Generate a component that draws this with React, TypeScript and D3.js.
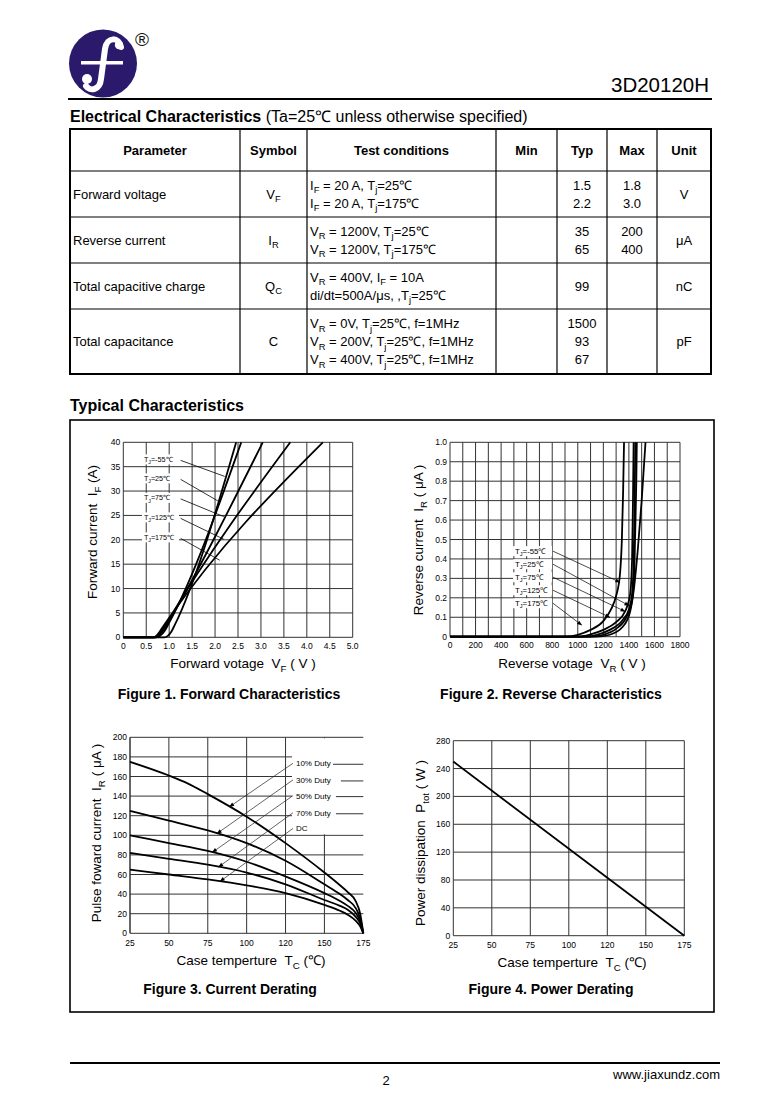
import React from "react";
import * as d3 from "d3";

const SANS = "'Liberation Sans', Arial, Helvetica, sans-serif";

// ---------------- Table data ----------------
const tableHeaders = ["Parameter", "Symbol", "Test conditions", "Min", "Typ", "Max", "Unit"];
const paramNames = ["Forward voltage", "Reverse current", "Total capacitive charge", "Total capacitance"];
const paramSymbols = ["V_{F}", "I_{R}", "Q_{C}", "C"];
const testConditions = [
  ["I_{F} = 20 A, T_{j}=25℃", "I_{F} = 20 A, T_{j}=175℃"],
  ["V_{R} = 1200V, T_{j}=25℃", "V_{R} = 1200V, T_{j}=175℃"],
  ["V_{R} = 400V, I_{F} = 10A", "di/dt=500A/μs, ,T_{j}=25℃"],
  ["V_{R} = 0V, T_{j}=25℃, f=1MHz", "V_{R} = 200V, T_{j}=25℃, f=1MHz", "V_{R} = 400V, T_{j}=25℃, f=1MHz"],
];
const minValues: string[][] = [[], [], [], []];
const typValues = [["1.5", "2.2"], ["35", "65"], ["99"], ["1500", "93", "67"]];
const maxValues = [["1.8", "3.0"], ["200", "400"], [], []];
const unitValues = ["V", "μA", "nC", "pF"];

// ---------------- Figure 1 data ----------------
const vfTickValues = [0, 0.5, 1, 1.5, 2, 2.5, 3, 3.5, 4, 4.5, 5];
const vfTickLabels = ["0", "0.5", "1.0", "1.5", "2.0", "2.5", "3.0", "3.5", "4.0", "4.5", "5.0"];
const ifTickValues = [0, 5, 10, 15, 20, 25, 30, 35, 40];
const fig1Temps = ["-55℃", "25℃", "75℃", "125℃", "175℃"];
const vfM55 = [[0, 0], [0.9, 0], [0.97, 0.3], [1.05, 1.2], [1.12, 2.5], [2.46, 40]];
const vf25 = [[0, 0], [0.72, 0], [0.8, 0.3], [0.9, 1.3], [1.0, 3], [2.57, 40]];
const vf75 = [[0, 0], [0.7, 0], [0.78, 0.4], [0.9, 1.8], [1.0, 3.4], [3.04, 40]];
const vf125 = [[0, 0], [0.68, 0], [0.76, 0.4], [0.88, 1.9], [1.0, 3.8], [3.64, 40]];
const vf175 = [[0, 0], [0.66, 0], [0.74, 0.5], [0.86, 2.1], [1.0, 4], [4.35, 40]];
const fig1Curves = [vfM55, vf25, vf75, vf125, vf175];
const fig1LabelV = 0.45;
const fig1LabelI = [36.5, 32.6, 28.6, 24.6, 20.5];
const fig1LeaderStartV = 1.25;
const fig1LeaderEndV = [2.21, 2.06, 2.19, 2.19, 2.1];

// ---------------- Figure 2 data ----------------
const vrGridValues = [0, 100, 200, 300, 400, 500, 600, 700, 800, 900, 1000, 1100, 1200, 1300, 1400, 1500, 1600, 1700, 1800];
const vrTickValues = [0, 200, 400, 600, 800, 1000, 1200, 1400, 1600, 1800];
const irTickValues = [0, 0.1, 0.2, 0.3, 0.4, 0.5, 0.6, 0.7, 0.8, 0.9, 1.0];
const irTickLabels = ["0", "0.1", "0.2", "0.3", "0.4", "0.5", "0.6", "0.7", "0.8", "0.9", "1.0"];
const fig2Temps = ["-55℃", "25℃", "75℃", "125℃", "175℃"];
const irM55 = [[0, 0], [1150, 0], [1250, 0.01], [1350, 0.05], [1410, 0.13], [1440, 0.25], [1470, 0.45], [1500, 0.7], [1530, 1.0]];
const ir25 = [[0, 0], [1100, 0], [1200, 0.01], [1300, 0.04], [1380, 0.1], [1420, 0.17], [1440, 0.3], [1450, 0.55], [1458, 0.8], [1462, 1.0]];
const ir75 = [[0, 0], [1050, 0], [1150, 0.01], [1250, 0.035], [1350, 0.085], [1400, 0.14], [1425, 0.22], [1438, 0.4], [1445, 0.7], [1450, 1.0]];
const ir125 = [[0, 0], [1000, 0], [1100, 0.012], [1200, 0.035], [1300, 0.075], [1370, 0.13], [1410, 0.22], [1425, 0.4], [1432, 0.7], [1437, 1.0]];
const ir175 = [[0, 0], [900, 0], [1000, 0.01], [1100, 0.035], [1200, 0.08], [1260, 0.14], [1300, 0.21], [1330, 0.32], [1345, 0.5], [1355, 0.75], [1362, 1.0]];
const fig2Curves = [irM55, ir25, ir75, ir125, ir175];
const fig2LabelV = 509;
const fig2LabelI = [0.44, 0.373, 0.306, 0.239, 0.172];
const fig2LeaderStartV = 806;
const fig2LeaderEnd = [[1330, 0.28], [1400, 0.16], [1370, 0.13], [1250, 0.1], [1030, 0.06]];

// ---------------- Figure 3 data ----------------
const tcTickValues = [25, 50, 75, 100, 125, 150, 175];
const tcTickLabels = ["25", "50", "75", "100", "120", "150", "175"];
const ifmTickValues = [0, 20, 40, 60, 80, 100, 120, 140, 160, 180, 200];
const dutyLabels = ["10% Duty", "30% Duty", "50% Duty", "70% Duty", "DC"];
const duty10 = [[25, 175], [50, 161], [62, 153], [75, 142], [100, 119], [125, 92], [150, 62], [160, 49], [165, 42], [170, 33], [173, 20], [175, 0]];
const duty30 = [[25, 125], [50, 115], [75, 105], [100, 92], [125, 74], [150, 50], [160, 40], [165, 34], [170, 26], [173, 15], [175, 0]];
const duty50 = [[25, 100], [50, 92], [75, 84], [100, 73], [125, 58], [150, 41], [160, 33], [165, 28], [170, 21], [173, 12], [175, 0]];
const duty70 = [[25, 82], [50, 76], [75, 70], [100, 62], [125, 50], [150, 34], [160, 28], [165, 24], [170, 17], [173, 10], [175, 0]];
const dutyDC = [[25, 65], [50, 60], [75, 55], [100, 49], [125, 41], [150, 29], [160, 23], [165, 19], [170, 13], [173, 7], [175, 0]];
const fig3Curves = [duty10, duty30, duty50, duty70, dutyDC];
const fig3LabelT = 131.7;
const fig3LabelI = [173.5, 156.5, 140.5, 123, 107];
const fig3LeaderStartT = 129.8;
const fig3LeaderEndT = [89, 81, 78, 82, 83];
const fig3LegendLineStartT = [155.5, 160.6, 157.4, 157.4];

// ---------------- Figure 4 data ----------------
const ptotTickValues = [0, 40, 80, 120, 160, 200, 240, 280];
const ptotCurve = [[25, 250], [175, 0]];

function Rich({ x, y, text, size, anchor = "start", weight = "normal", family = SANS, fill = "#000", transform }: any) {
  const segs: { t: string; sub: boolean }[] = [];
  const re = /_\{([^}]*)\}/g;
  let last = 0;
  let m: RegExpExecArray | null;
  while ((m = re.exec(text))) {
    if (m.index > last) segs.push({ t: text.slice(last, m.index), sub: false });
    segs.push({ t: m[1], sub: true });
    last = m.index + m[0].length;
  }
  if (last < text.length) segs.push({ t: text.slice(last), sub: false });
  const shift = size * 0.3;
  let prevSub = false;
  return (
    <text x={x} y={y} fontSize={size} textAnchor={anchor} fontWeight={weight} fontFamily={family} fill={fill} transform={transform} style={{ whiteSpace: "pre" }}>
      {segs.map((s, i) => {
        let dy = 0;
        if (s.sub && !prevSub) dy = shift;
        else if (!s.sub && prevSub) dy = -shift;
        prevSub = s.sub;
        return (
          <tspan key={i} dy={dy || undefined} fontSize={s.sub ? size * 0.72 : undefined}>
            {s.t}
          </tspan>
        );
      })}
    </text>
  );
}

function interp(curve: number[][], x: number) {
  const s = d3.scaleLinear().domain(curve.map((d) => d[0])).range(curve.map((d) => d[1]));
  return s(x);
}

export default function App() {
  const colEdges = [70, 240, 307, 496, 557, 607, 657, 711];
  const rowEdges = [129, 171, 217, 263, 309, 374];
  const colCenter = (c: number) => (colEdges[c] + colEdges[c + 1]) / 2;

  const f1x = d3.scaleLinear().domain([0, 5]).range([123.3, 352.7]);
  const f1y = d3.scaleLinear().domain([0, 40]).range([637.3, 442.3]);
  const l1 = d3.line<number[]>().x((d) => f1x(d[0])).y((d) => f1y(d[1])).curve(d3.curveMonotoneX);

  const f2x = d3.scaleLinear().domain([0, 1800]).range([450, 680]);
  const f2y = d3.scaleLinear().domain([0, 1]).range([636.7, 442.3]);
  const l2 = d3.line<number[]>().x((d) => f2x(d[0])).y((d) => f2y(d[1])).curve(d3.curveMonotoneX);

  const f3x = d3.scaleLinear().domain([25, 175]).range([130, 363.3]);
  const f3y = d3.scaleLinear().domain([0, 200]).range([933.3, 737.3]);
  const l3 = d3.line<number[]>().x((d) => f3x(d[0])).y((d) => f3y(d[1])).curve(d3.curveMonotoneX);

  const f4x = d3.scaleLinear().domain([25, 175]).range([453.3, 684.3]);
  const f4y = d3.scaleLinear().domain([0, 280]).range([935.7, 740.7]);
  const l4 = d3.line<number[]>().x((d) => f4x(d[0])).y((d) => f4y(d[1]));

  const grid = "#333";
  const tickSize = 8.5;

  return (
    <svg width={783} height={1109} style={{ position: "absolute", left: 0, top: 0, background: "#fff" }} fontFamily={SANS}>
      <defs>
        <marker id="arr" viewBox="0 0 10 10" refX="9" refY="5" markerWidth="6" markerHeight="5" markerUnits="userSpaceOnUse" orient="auto">
          <path d="M0,1 L10,5 L0,9 z" fill="#000" />
        </marker>
      </defs>
      <rect x={0} y={0} width={783} height={1109} fill="#fff" />

      {/* ---------- Header ---------- */}
      <circle cx={103} cy={63.5} r={34} fill="#2b1a6b" />
      <path d="M121,47 C119,37 107,36 105,49 L101,79 C100,90 90,92 86,86" stroke="#fff" strokeWidth={6} fill="none" strokeLinecap="round" />
      <circle cx={119} cy={45} r={4.2} fill="#fff" />
      <circle cx={87} cy={79} r={5} fill="#fff" />
      <rect x={81} y={61} width={42} height={3.5} fill="#fff" />
      <text x={142} y={46} fontSize={19} textAnchor="middle" fill="#111">®</text>
      <text x={709} y={92} fontSize={20.5} textAnchor="end" fill="#000">3D20120H</text>
      <line x1={68} x2={712} y1={99} y2={99} stroke="#000" strokeWidth={2} />

      {/* ---------- Electrical characteristics ---------- */}
      <text x={70} y={122} fontSize={16} style={{ whiteSpace: "pre" }}>
        <tspan fontWeight="bold">Electrical Characteristics</tspan>
        <tspan> (Ta=25℃ unless otherwise specified)</tspan>
      </text>

      {rowEdges.slice(1, -1).map((y, i) => (
        <line key={"r" + i} x1={colEdges[0]} x2={colEdges[colEdges.length - 1]} y1={y} y2={y} stroke="#000" strokeWidth={1.2} />
      ))}
      {colEdges.slice(1, -1).map((x, i) => (
        <line key={"c" + i} x1={x} x2={x} y1={rowEdges[0]} y2={rowEdges[rowEdges.length - 1]} stroke="#000" strokeWidth={1.2} />
      ))}
      <rect x={colEdges[0]} y={rowEdges[0]} width={colEdges[7] - colEdges[0]} height={rowEdges[5] - rowEdges[0]} fill="none" stroke="#000" strokeWidth={2} />

      {tableHeaders.map((h, i) => (
        <text key={"h" + i} x={colCenter(i)} y={(rowEdges[0] + rowEdges[1]) / 2 + 4.5} fontSize={13} fontWeight="bold" textAnchor="middle">
          {h}
        </text>
      ))}

      {paramNames.map((p, r) => {
        const cy = (rowEdges[r + 1] + rowEdges[r + 2]) / 2;
        const off = (n: number, k: number) => cy + (k - (n - 1) / 2) * 18 + 4.5;
        const lines = (vals: string[], c: number) =>
          vals.map((v, k) => (
            <text key={c + "-" + k} x={colCenter(c)} y={off(vals.length, k)} fontSize={13} textAnchor="middle">
              {v}
            </text>
          ));
        return (
          <g key={"row" + r}>
            <text x={73} y={cy + 4.5} fontSize={13}>{p}</text>
            <Rich x={colCenter(1)} y={cy + 4.5} text={paramSymbols[r]} size={13} anchor="middle" />
            {testConditions[r].map((t, k) => (
              <Rich key={k} x={310} y={off(testConditions[r].length, k)} text={t} size={13} />
            ))}
            {lines(minValues[r], 3)}
            {lines(typValues[r], 4)}
            {lines(maxValues[r], 5)}
            <text x={colCenter(6)} y={cy + 4.5} fontSize={13} textAnchor="middle">{unitValues[r]}</text>
          </g>
        );
      })}

      {/* ---------- Typical characteristics ---------- */}
      <text x={70} y={411} fontSize={16} fontWeight="bold">Typical Characteristics</text>
      <rect x={70} y={420} width={644} height={592} fill="none" stroke="#000" strokeWidth={1.6} />

      {/* ===== Figure 1 ===== */}
      <g>
        {vfTickValues.map((v, i) => (
          <line key={"g1v" + i} x1={f1x(v)} x2={f1x(v)} y1={f1y(0)} y2={f1y(40)} stroke={grid} strokeWidth={1} />
        ))}
        {ifTickValues.map((v, i) => (
          <line key={"g1h" + i} x1={f1x(0)} x2={f1x(5)} y1={f1y(v)} y2={f1y(v)} stroke={grid} strokeWidth={1} />
        ))}
        {vfTickValues.map((v, i) => (
          <text key={"t1x" + i} x={f1x(v)} y={f1y(0) + 11.5} fontSize={tickSize} textAnchor="middle">{vfTickLabels[i]}</text>
        ))}
        {ifTickValues.map((v, i) => (
          <text key={"t1y" + i} x={f1x(0) - 3} y={f1y(v) + 3} fontSize={tickSize} textAnchor="end">{v}</text>
        ))}
        {fig1Temps.map((t, i) => {
          const x = f1x(fig1LabelV);
          const y = f1y(fig1LabelI[i]);
          return (
            <g key={"lab1" + i}>
              <rect x={x - 2} y={y - 5} width={37} height={10} fill="#fff" />
              <Rich x={x} y={y + 2.5} text={`T_{J}=${t}`} size={7.2} />
              <line x1={f1x(fig1LeaderStartV)} y1={y + 1} x2={f1x(fig1LeaderEndV[i])} y2={f1y(interp(fig1Curves[i], fig1LeaderEndV[i]))} stroke="#000" strokeWidth={0.8} />
            </g>
          );
        })}
        {fig1Curves.map((c, i) => (
          <path key={"c1" + i} d={l1(c) || ""} fill="none" stroke="#000" strokeWidth={1.8} />
        ))}
        <Rich x={0} y={0} transform={`translate(97,532) rotate(-90)`} text="Forward current  I_{F} (A)" size={13.5} anchor="middle" />
        <Rich x={243} y={668} text="Forward votage  V_{F} ( V )" size={13.5} anchor="middle" />
        <text x={229} y={699} fontSize={14} fontWeight="bold" textAnchor="middle">Figure 1. Forward Characteristics</text>
      </g>

      {/* ===== Figure 2 ===== */}
      <g>
        {vrGridValues.map((v, i) => (
          <line key={"g2v" + i} x1={f2x(v)} x2={f2x(v)} y1={f2y(0)} y2={f2y(1)} stroke={grid} strokeWidth={1} />
        ))}
        {irTickValues.map((v, i) => (
          <line key={"g2h" + i} x1={f2x(0)} x2={f2x(1800)} y1={f2y(v)} y2={f2y(v)} stroke={grid} strokeWidth={1} />
        ))}
        {vrTickValues.map((v, i) => (
          <text key={"t2x" + i} x={f2x(v)} y={f2y(0) + 11.5} fontSize={tickSize} textAnchor="middle">{v}</text>
        ))}
        {irTickValues.map((v, i) => (
          <text key={"t2y" + i} x={f2x(0) - 3} y={f2y(v) + 3} fontSize={tickSize} textAnchor="end">{irTickLabels[i]}</text>
        ))}
        {fig2Temps.map((t, i) => {
          const x = f2x(fig2LabelV);
          const y = f2y(fig2LabelI[i]);
          return (
            <g key={"lab2" + i}>
              <rect x={x - 2} y={y - 5} width={39} height={10} fill="#fff" />
              <Rich x={x} y={y + 2.5} text={`T_{J}=${t}`} size={7.8} />
              <line x1={f2x(fig2LeaderStartV)} y1={y} x2={f2x(fig2LeaderEnd[i][0])} y2={f2y(fig2LeaderEnd[i][1])} stroke="#000" strokeWidth={0.7} markerEnd="url(#arr)" />
            </g>
          );
        })}
        {fig2Curves.map((c, i) => (
          <path key={"c2" + i} d={l2(c) || ""} fill="none" stroke="#000" strokeWidth={1.8} />
        ))}
        <Rich x={0} y={0} transform={`translate(423,540) rotate(-90)`} text="Reverse current  I_{R} ( μA )" size={13.5} anchor="middle" />
        <Rich x={572} y={668} text="Reverse votage  V_{R} ( V )" size={13.5} anchor="middle" />
        <text x={551} y={699} fontSize={14} fontWeight="bold" textAnchor="middle">Figure 2. Reverse Characteristics</text>
      </g>

      {/* ===== Figure 3 ===== */}
      <g>
        {tcTickValues.slice(1, -1).map((v, i) => (
          <line key={"g3v" + i} x1={f3x(v)} x2={f3x(v)} y1={f3y(0)} y2={f3y(200)} stroke={grid} strokeWidth={1} />
        ))}
        <line x1={f3x(25)} x2={f3x(25)} y1={f3y(0)} y2={f3y(200)} stroke="#000" strokeWidth={1.2} />
        {ifmTickValues.map((v, i) => (
          <line key={"g3h" + i} x1={f3x(25)} x2={f3x(175)} y1={f3y(v)} y2={f3y(v)} stroke={grid} strokeWidth={1} />
        ))}
        <rect x={f3x(fig3LeaderStartT) - 1} y={f3y(199)} width={f3x(175) - f3x(fig3LeaderStartT) + 3} height={f3y(101) - f3y(199)} fill="#fff" />
        {tcTickValues.map((v, i) => (
          <text key={"t3x" + i} x={f3x(v)} y={f3y(0) + 12.5} fontSize={tickSize} textAnchor="middle">{tcTickLabels[i]}</text>
        ))}
        {ifmTickValues.map((v, i) => (
          <text key={"t3y" + i} x={f3x(25) - 3} y={f3y(v) + 3} fontSize={tickSize} textAnchor="end">{v}</text>
        ))}
        {fig3Curves.map((c, i) => (
          <path key={"c3" + i} d={l3(c) || ""} fill="none" stroke="#000" strokeWidth={1.8} />
        ))}
        {dutyLabels.map((t, i) => {
          const x = f3x(fig3LabelT);
          const y = f3y(fig3LabelI[i]);
          return (
            <g key={"lab3" + i}>
              <text x={x} y={y + 3} fontSize={8}>{t}</text>
              {i < 4 && <line x1={f3x(fig3LegendLineStartT[i])} x2={f3x(175)} y1={y + 1} y2={y + 1} stroke={grid} strokeWidth={1} />}
              <line x1={f3x(fig3LeaderStartT)} y1={y} x2={f3x(fig3LeaderEndT[i])} y2={f3y(interp(fig3Curves[i], fig3LeaderEndT[i]))} stroke="#222" strokeWidth={0.7} markerEnd="url(#arr)" />
            </g>
          );
        })}
        <Rich x={0} y={0} transform={`translate(101,833) rotate(-90)`} text="Pulse foward current  I_{R} ( μA )" size={13.5} anchor="middle" />
        <Rich x={251} y={965} text="Case temperture  T_{C} (℃)" size={13.5} anchor="middle" />
        <text x={230} y={994} fontSize={14} fontWeight="bold" textAnchor="middle">Figure 3. Current Derating</text>
      </g>

      {/* ===== Figure 4 ===== */}
      <g>
        {tcTickValues.map((v, i) => (
          <line key={"g4v" + i} x1={f4x(v)} x2={f4x(v)} y1={f4y(0)} y2={f4y(280)} stroke={grid} strokeWidth={1} />
        ))}
        {ptotTickValues.map((v, i) => (
          <line key={"g4h" + i} x1={f4x(25)} x2={f4x(175)} y1={f4y(v)} y2={f4y(v)} stroke={grid} strokeWidth={1} />
        ))}
        {tcTickValues.map((v, i) => (
          <text key={"t4x" + i} x={f4x(v)} y={f4y(0) + 12.5} fontSize={tickSize} textAnchor="middle">{tcTickLabels[i]}</text>
        ))}
        {ptotTickValues.map((v, i) => (
          <text key={"t4y" + i} x={f4x(25) - 3} y={f4y(v) + 3} fontSize={tickSize} textAnchor="end">{v}</text>
        ))}
        <path d={l4(ptotCurve) || ""} fill="none" stroke="#000" strokeWidth={1.8} />
        <Rich x={0} y={0} transform={`translate(425,843) rotate(-90)`} text="Power dissipation  P_{tot} ( W )" size={13.5} anchor="middle" />
        <Rich x={572} y={967} text="Case temperture  T_{C} (℃)" size={13.5} anchor="middle" />
        <text x={551} y={994} fontSize={14} fontWeight="bold" textAnchor="middle">Figure 4. Power Derating</text>
      </g>

      {/* ---------- Footer ---------- */}
      <line x1={70} x2={720} y1={1063} y2={1063} stroke="#000" strokeWidth={2} />
      <text x={386} y={1085} fontSize={13} textAnchor="middle">2</text>
      <text x={720} y={1079} fontSize={13} textAnchor="end">www.jiaxundz.com</text>
    </svg>
  );
}
